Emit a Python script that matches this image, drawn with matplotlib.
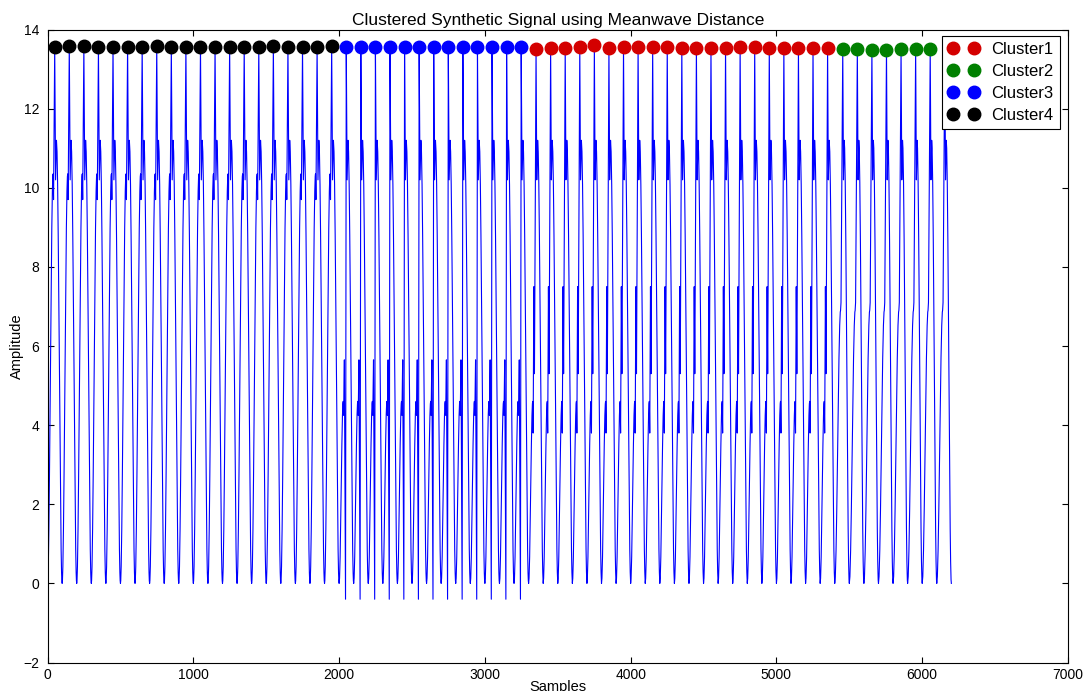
import matplotlib
matplotlib.use("Agg")
import matplotlib.pyplot as plt
from matplotlib.lines import Line2D

plt.rcParams['font.family'] = ['Liberation Sans', 'DejaVu Sans']

BEAT_LEN = 100

# cluster label of every beat, in order
beat_cluster = [4] * 20 + [3] * 13 + [1] * 21 + [2] * 8

# only the first 61 beats carry a cluster marker
n_marked = 61

# R-peak amplitude of every beat
r_peak = [13.55, 13.58, 13.58, 13.55, 13.55, 13.57, 13.57, 13.58, 13.55, 13.57,
          13.55, 13.57, 13.57, 13.55, 13.55, 13.58, 13.57, 13.55, 13.56, 13.58,
          13.56, 13.56, 13.57, 13.56, 13.56, 13.57, 13.56, 13.56, 13.57, 13.56,
          13.56, 13.57, 13.56,
          13.51, 13.53, 13.54, 13.57, 13.60, 13.54, 13.55, 13.57, 13.55, 13.55,
          13.54, 13.53, 13.53, 13.54, 13.55, 13.55, 13.54, 13.53, 13.52, 13.52,
          13.52,
          13.51, 13.50, 13.49, 13.49, 13.50, 13.50, 13.50, 13.50]

# beat templates per cluster: sample offsets and amplitudes ("R" = R-peak slot)
tmpl_t = {
    4: [0, 2, 5, 9, 13, 17, 21, 25, 29, 33, 36, 38, 41, 49, 55, 61,
        65, 69, 73, 77, 81, 85, 89, 93, 96, 98],
    3: [0, 3, 7, 11, 15, 19, 23, 26, 28, 31, 36, 44, 49, 55, 61,
        65, 69, 73, 77, 81, 85, 89, 93, 96, 98],
    1: [0, 3, 7, 11, 15, 19, 23, 26, 28, 31, 36, 40, 51, 56, 62,
        66, 70, 74, 78, 82, 86, 90, 94, 97, 99],
    2: [0, 4, 9, 14, 19, 24, 29, 34, 38, 40, 43, 55, 60, 65,
        68, 72, 76, 80, 84, 88, 92, 95, 98],
}
tmpl_v = {
    4: [0, 0.07, 0.43, 1.37, 2.71, 4.32, 6.02, 7.64, 8.98, 9.92, 10.28, 10.35, 9.7,
        "R", 10.2, 11.2, 10.91, 10.08, 8.79, 7.16, 5.38, 3.61, 2.06, 0.86, 0.28, 0.07],
    3: [0, 0.13, 0.67, 1.54, 2.56, 3.52, 4.25, 4.54, 4.6, 4.25, 5.65, -0.4,
        "R", 10.2, 11.2, 10.91, 10.08, 8.79, 7.16, 5.38, 3.61, 2.06, 0.86, 0.28, 0.07],
    1: [0, 0.13, 0.67, 1.54, 2.56, 3.52, 4.25, 4.54, 4.6, 3.8, 7.5, 5.3,
        "R", 10.2, 11.2, 10.91, 10.08, 8.79, 7.16, 5.38, 3.61, 2.06, 0.86, 0.28, 0.07],
    2: [0, 0.17, 0.83, 1.88, 3.18, 4.52, 5.69, 6.52, 6.86, 6.9, 7.1,
        "R", 10.2, 11.2, 11.0, 10.13, 8.69, 6.85, 4.85, 2.95, 1.38, 0.55, 0.09],
}

cluster_names = ["Cluster1", "Cluster2", "Cluster3", "Cluster4"]
cluster_colors = {1: "#d40000", 2: "#008000", 3: "#0000ff", 4: "#000000"}

# assemble the signal beat by beat and collect the R-peak locations
sig_x, sig_y = [], []
peak_x = {c: [] for c in cluster_colors}
peak_y = {c: [] for c in cluster_colors}
for b, c in enumerate(beat_cluster):
    start = b * BEAT_LEN
    for t, v in zip(tmpl_t[c], tmpl_v[c]):
        sig_x.append(start + t)
        if v == "R":
            sig_y.append(r_peak[b])
            if b < n_marked:
                peak_x[c].append(start + t)
                peak_y[c].append(r_peak[b])
        else:
            sig_y.append(v)
sig_x.append(len(beat_cluster) * BEAT_LEN)
sig_y.append(0.0)

fig = plt.figure(figsize=(10.86, 6.91), dpi=100)
ax = fig.add_axes([0.0438, 0.0412, 0.9396, 0.9161])

ax.plot(sig_x, sig_y, color="#0000ff", lw=0.8, zorder=2)
for c in (4, 3, 1, 2):
    ax.plot(peak_x[c], peak_y[c], "o", color=cluster_colors[c],
            ms=9, mec=cluster_colors[c], zorder=3)

ax.set_xlim(0, 7000)
ax.set_ylim(-2, 14)
ax.set_xticks(range(0, 7001, 1000))
ax.set_yticks(range(-2, 15, 2))
ax.tick_params(direction="in", top=True, right=True, length=4, width=0.8,
               labelsize=10, pad=4)
ax.tick_params(axis="y", pad=6)
for s in ax.spines.values():
    s.set_linewidth(0.8)

ax.set_title("Clustered Synthetic Signal using Meanwave Distance", fontsize=12.5, pad=3)
ax.set_xlabel("Samples", fontsize=10.5)
ax.xaxis.set_label_coords(0.5, -0.028)
ax.set_ylabel("Amplitude", fontsize=10.5)
ax.yaxis.set_label_coords(-0.023, 0.5)

handles = [Line2D([], [], ls="none", marker="o", ms=9,
                  color=cluster_colors[i + 1], mec=cluster_colors[i + 1])
           for i in range(4)]
leg = ax.legend(handles, cluster_names, loc="upper right",
                bbox_to_anchor=(0.992, 0.9897), borderaxespad=0,
                numpoints=2, fontsize=12, handlelength=1.84,
                handletextpad=0.74, borderpad=0.37, labelspacing=0.42,
                fancybox=False, framealpha=1, edgecolor="black")
leg.get_frame().set_linewidth(0.8)
leg.set_zorder(5)

fig.savefig("out.png", dpi=100)
